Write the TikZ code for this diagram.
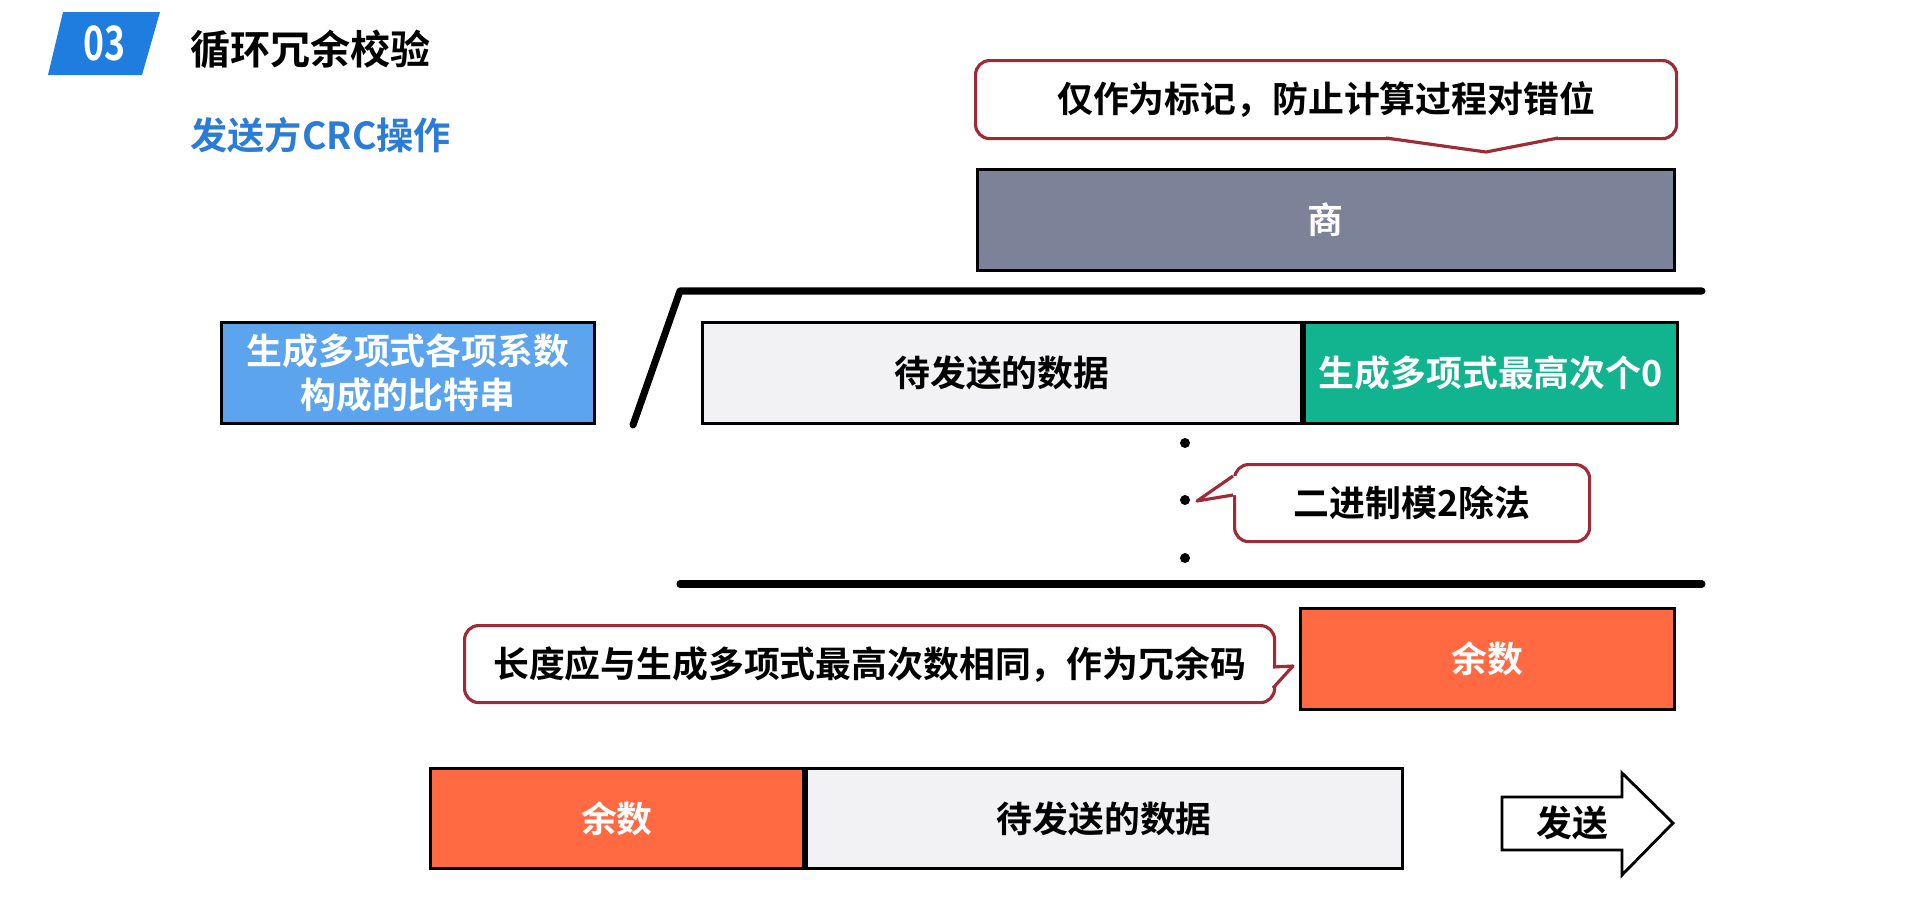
\documentclass[tikz,border=0pt]{standalone}
\usepackage{fontspec}
\setmainfont{Noto Sans CJK SC}[BoldFont={Noto Sans CJK SC Bold}]

\definecolor{badgeblue}{HTML}{1F7DE0}
\definecolor{subblue}{HTML}{2A7CD6}
\definecolor{polyblue}{HTML}{5CA5EE}
\definecolor{zerogreen}{HTML}{12B48F}
\definecolor{remorange}{HTML}{FF6A43}
\definecolor{quotgray}{HTML}{7C8399}
\definecolor{datagray}{HTML}{F2F2F4}
\definecolor{noteborder}{HTML}{9E2B36}

\newcommand\txtfont{\fontsize{10.2pt}{12.3pt}\selectfont\bfseries}

\begin{document}
\begin{tikzpicture}[x=0.1mm, y=-0.1mm,
  cell/.style={draw=black, line width=0.8pt, anchor=north west, inner sep=0pt,
    minimum height=10.1mm, font=\txtfont, text=white},
  note/.style={draw=noteborder, line width=0.9pt, rounded corners=4pt, fill=white,
    anchor=north west, inner sep=0pt, minimum height=7.8mm, font=\txtfont},
  tail/.style={draw=noteborder, line width=0.9pt, line join=round},
  bar/.style={line width=2pt, line cap=round, line join=round}]
  \useasboundingbox (0,0) rectangle (1920,902);

  % header
  \fill[badgeblue] (63,12) -- (160,12) -- (142,75) -- (48,75) -- cycle;
  \node[text=white, font=\fontsize{13.5pt}{15pt}\selectfont\bfseries, xscale=0.75] (num) at (104,43) {03};
  \node[anchor=west, font=\fontsize{11.4pt}{13pt}\selectfont\bfseries] (title) at (178,49) {循环冗余校验};
  \node[anchor=west, text=subblue, font=\fontsize{10.6pt}{13pt}\selectfont\bfseries] (sub) at (178,135) {发送方CRC操作};

  % note over the quotient
  \node[note, minimum width=70.1mm] (note1) at (974,59) {仅作为标记，防止计算过程对错位};
  \fill[white] (1386,134) -- (1386,138) -- (1486,152) -- (1558,138) -- (1558,134) -- cycle;
  \draw[tail] (1386,138) -- (1486,152) -- (1558,138);

  \node[cell, fill=quotgray, minimum width=69.7mm] (quot) at (976,168) {商};

  % division bracket
  \coordinate (brl) at (633,425);
  \coordinate (brt) at (680,291);
  \coordinate (brr) at (1702,291);
  \draw[bar] (brl) -- (brt) -- (brr);

  \node[cell, fill=polyblue, minimum width=37.3mm, align=center] (poly) at (220,321)
    {生成多项式各项系数\\构成的比特串};
  \node[cell, fill=datagray, text=black, minimum width=59.9mm] (data) at (701,321) {待发送的数据};
  \node[cell, fill=zerogreen, minimum width=37.3mm] (zeros) at (data.north east) {生成多项式最高次个0};

  % steps of the division
  \foreach \y in {443,500,558}
    \fill (1185,\y) circle (0.5mm);
  \node[note, minimum width=35.5mm, minimum height=7.7mm] (note2) at (1233,463) {二进制模2除法};
  \fill[white] (1237,476) -- (1233,476) -- (1197,501) -- (1233,495) -- (1237,495) -- cycle;
  \draw[tail] (1233,476) -- (1197,501) -- (1233,495);

  \coordinate (bbl) at (680,584);
  \coordinate (bbr) at (1702,584);
  \draw[bar] (bbl) -- (bbr);

  \node[cell, fill=remorange, minimum width=37.4mm] (rem) at (1299,607) {余数};
  \node[note, minimum width=81mm, minimum height=7.7mm] (note3) at (463,624) {长度应与生成多项式最高次数相同，作为冗余码};
  \fill[white] (1269,667) -- (1273,667) -- (1293,666) -- (1273,688) -- (1269,688) -- cycle;
  \draw[tail] (1273,667) -- (1293,666) -- (1273,688);

  % frame to send
  \node[cell, fill=remorange, minimum width=37.3mm, minimum height=10mm] (rem2) at (429,767) {余数};
  \node[cell, fill=datagray, text=black, minimum width=59.6mm, minimum height=10mm] (data2) at (rem2.north east) {待发送的数据};

  \draw[line width=0.8pt, fill=white] (1502,797) -- (1622,797) -- (1622,773) -- (1673,823)
    -- (1622,875) -- (1622,850) -- (1502,850) -- cycle;
  \node[font=\txtfont] (send) at (1572,823) {发送};
\end{tikzpicture}
\end{document}
